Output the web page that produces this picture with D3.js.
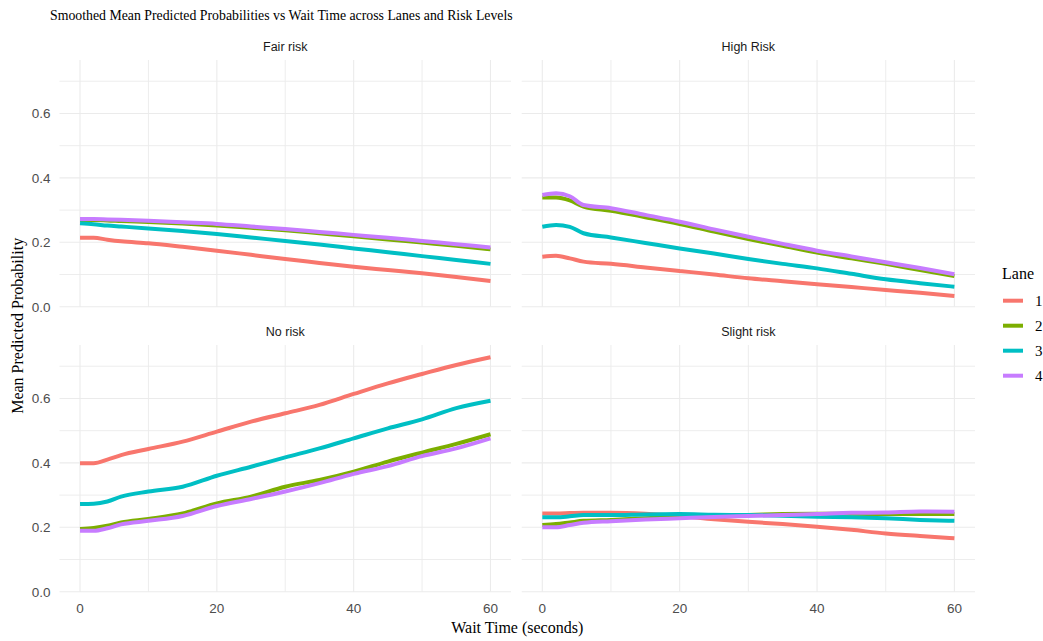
<!DOCTYPE html>
<html>
<head>
<meta charset="utf-8">
<script src="https://cdn.jsdelivr.net/npm/d3@7"></script>
<style>
  html, body { margin: 0; padding: 0; background: #ffffff; }
  svg { display: block; }
</style>
</head>
<body>
<svg id="chart" width="1043" height="641"></svg>
<script>
// Wait time grid (seconds) shared by every smoothed series
const waitTimes = [0, 2, 4, 6, 10, 15, 20, 25, 30, 35, 40, 45, 50, 55, 60];

const lanes = ["1", "2", "3", "4"];
const laneColors = ["#F8766D", "#7CAE00", "#00BFC4", "#C77CFF"];

const riskLevels = ["Fair risk", "High Risk", "No risk", "Slight risk"];

// Smoothed mean predicted probability per lane, one array per risk level
const fairRisk = [
  [0.214, 0.214, 0.208, 0.203, 0.197, 0.186, 0.174, 0.161, 0.148, 0.136, 0.124, 0.114, 0.104, 0.092, 0.080],
  [0.269, 0.269, 0.268, 0.266, 0.263, 0.258, 0.252, 0.245, 0.237, 0.228, 0.219, 0.209, 0.199, 0.189, 0.178],
  [0.259, 0.256, 0.252, 0.249, 0.243, 0.235, 0.226, 0.215, 0.204, 0.193, 0.181, 0.169, 0.157, 0.145, 0.133],
  [0.272, 0.272, 0.271, 0.270, 0.267, 0.262, 0.257, 0.249, 0.241, 0.232, 0.223, 0.214, 0.204, 0.194, 0.184]
];
const highRisk = [
  [0.155, 0.158, 0.150, 0.140, 0.133, 0.122, 0.111, 0.100, 0.088, 0.079, 0.070, 0.061, 0.052, 0.043, 0.033],
  [0.339, 0.339, 0.330, 0.311, 0.298, 0.278, 0.257, 0.233, 0.210, 0.189, 0.168, 0.150, 0.133, 0.114, 0.095],
  [0.248, 0.254, 0.248, 0.228, 0.215, 0.198, 0.181, 0.165, 0.148, 0.133, 0.119, 0.102, 0.085, 0.073, 0.062],
  [0.347, 0.352, 0.343, 0.316, 0.306, 0.285, 0.264, 0.240, 0.217, 0.195, 0.174, 0.156, 0.138, 0.120, 0.101]
];
const noRisk = [
  [0.399, 0.399, 0.410, 0.424, 0.443, 0.466, 0.497, 0.528, 0.554, 0.580, 0.614, 0.647, 0.676, 0.704, 0.728],
  [0.195, 0.198, 0.205, 0.215, 0.226, 0.243, 0.274, 0.295, 0.326, 0.347, 0.373, 0.404, 0.432, 0.459, 0.489],
  [0.272, 0.273, 0.280, 0.295, 0.311, 0.326, 0.360, 0.388, 0.417, 0.445, 0.476, 0.507, 0.535, 0.570, 0.593],
  [0.189, 0.189, 0.197, 0.209, 0.220, 0.235, 0.266, 0.288, 0.311, 0.337, 0.366, 0.390, 0.421, 0.445, 0.476]
];
const slightRisk = [
  [0.243, 0.243, 0.244, 0.245, 0.245, 0.242, 0.235, 0.225, 0.217, 0.210, 0.202, 0.192, 0.181, 0.173, 0.166],
  [0.207, 0.210, 0.215, 0.220, 0.223, 0.228, 0.233, 0.236, 0.238, 0.241, 0.242, 0.242, 0.241, 0.241, 0.241],
  [0.231, 0.231, 0.234, 0.238, 0.238, 0.240, 0.241, 0.239, 0.238, 0.236, 0.233, 0.231, 0.228, 0.223, 0.220],
  [0.200, 0.200, 0.207, 0.214, 0.219, 0.224, 0.228, 0.232, 0.235, 0.238, 0.241, 0.245, 0.246, 0.249, 0.248]
];
const panelValues = [fairRisk, highRisk, noRisk, slightRisk];

const xTicks = [0, 20, 40, 60];
const xMinor = [10, 30, 50];
const yTicks = [0, 0.2, 0.4, 0.6];
const yMinor = [0.1, 0.3, 0.5, 0.7];

const titleText = "Smoothed Mean Predicted Probabilities vs Wait Time across Lanes and Risk Levels";
const xTitle = "Wait Time (seconds)";
const yTitle = "Mean Predicted Probability";
const legendTitle = "Lane";

// ---- layout ----
const svg = d3.select("#chart");
const serif = "'Liberation Serif', 'Times New Roman', serif";
const sans = "'Liberation Sans', Arial, sans-serif";

const colX = [[59.5, 511], [521.7, 975]];
const rowY = [[60, 306.7], [345, 591.7]];

const xDomain = [-3, 63];
const yDomain = [0, 0.766];

const gridColor = "#EBEBEB";

riskLevels.forEach((risk, i) => {
  const col = i % 2, row = Math.floor(i / 2);
  const x = d3.scaleLinear().domain(xDomain).range(colX[col]);
  const y = d3.scaleLinear().domain(yDomain).range([rowY[row][1], rowY[row][0]]);
  const g = svg.append("g");

  // grid: minor then major
  g.selectAll(".ymin").data(yMinor).join("line")
    .attr("x1", colX[col][0]).attr("x2", colX[col][1])
    .attr("y1", d => y(d)).attr("y2", d => y(d))
    .attr("stroke", gridColor).attr("stroke-width", 0.9);
  g.selectAll(".xmin").data(xMinor).join("line")
    .attr("y1", rowY[row][0]).attr("y2", rowY[row][1])
    .attr("x1", d => x(d)).attr("x2", d => x(d))
    .attr("stroke", gridColor).attr("stroke-width", 0.9);
  g.selectAll(".ymaj").data(yTicks).join("line")
    .attr("x1", colX[col][0]).attr("x2", colX[col][1])
    .attr("y1", d => y(d)).attr("y2", d => y(d))
    .attr("stroke", gridColor).attr("stroke-width", 1.1);
  g.selectAll(".xmaj").data(xTicks).join("line")
    .attr("y1", rowY[row][0]).attr("y2", rowY[row][1])
    .attr("x1", d => x(d)).attr("x2", d => x(d))
    .attr("stroke", gridColor).attr("stroke-width", 1.1);

  // strip label
  svg.append("text")
    .attr("x", (colX[col][0] + colX[col][1]) / 2)
    .attr("y", rowY[row][0] - 9)
    .attr("text-anchor", "middle")
    .attr("font-family", sans).attr("font-size", 12.5)
    .attr("fill", "#1A1A1A")
    .text(risk);

  // y tick labels on left column
  if (col === 0) {
    g.selectAll(".ytl").data(yTicks).join("text")
      .attr("x", 50.5).attr("y", d => y(d)).attr("dy", "0.36em")
      .attr("text-anchor", "end")
      .attr("font-family", sans).attr("font-size", 13.5)
      .attr("fill", "#4D4D4D")
      .text(d3.format(".1f"));
  }
  // x tick labels on bottom row
  if (row === 1) {
    g.selectAll(".xtl").data(xTicks).join("text")
      .attr("x", d => x(d)).attr("y", rowY[row][1] + 16)
      .attr("dy", "0.36em")
      .attr("text-anchor", "middle")
      .attr("font-family", sans).attr("font-size", 13.5)
      .attr("fill", "#4D4D4D")
      .text(d => d);
  }

  // lines, lane 1 drawn first so later lanes sit on top
  const line = d3.line().x((d, k) => x(waitTimes[k])).y(d => y(d)).curve(d3.curveMonotoneX);
  panelValues[i].forEach((vals, li) => {
    g.append("path")
      .attr("d", line(vals))
      .attr("fill", "none")
      .attr("stroke", laneColors[li])
      .attr("stroke-width", 4)
      .attr("stroke-linejoin", "round");
  });
});

// titles
svg.append("text")
  .attr("x", 50).attr("y", 20)
  .attr("font-family", serif).attr("font-size", 13.8)
  .attr("fill", "#000")
  .text(titleText);

svg.append("text")
  .attr("x", (colX[0][0] + colX[1][1]) / 2).attr("y", 633)
  .attr("text-anchor", "middle")
  .attr("font-family", serif).attr("font-size", 16)
  .attr("fill", "#000")
  .text(xTitle);

svg.append("text")
  .attr("transform", `translate(23, ${(rowY[0][0] + rowY[1][1]) / 2}) rotate(-90)`)
  .attr("text-anchor", "middle")
  .attr("font-family", serif).attr("font-size", 16)
  .attr("fill", "#000")
  .text(yTitle);

// legend
const legend = svg.append("g");
legend.append("text")
  .attr("x", 1002).attr("y", 279)
  .attr("font-family", serif).attr("font-size", 16)
  .attr("fill", "#000")
  .text(legendTitle);
lanes.forEach((lane, li) => {
  const ly = 300.7 + li * 25;
  legend.append("line")
    .attr("x1", 1003).attr("x2", 1023)
    .attr("y1", ly).attr("y2", ly)
    .attr("stroke", laneColors[li]).attr("stroke-width", 4);
  legend.append("text")
    .attr("x", 1035).attr("y", ly).attr("dy", "0.36em")
    .attr("font-family", serif).attr("font-size", 15)
    .attr("fill", "#000")
    .text(lane);
});
</script>
</body>
</html>
